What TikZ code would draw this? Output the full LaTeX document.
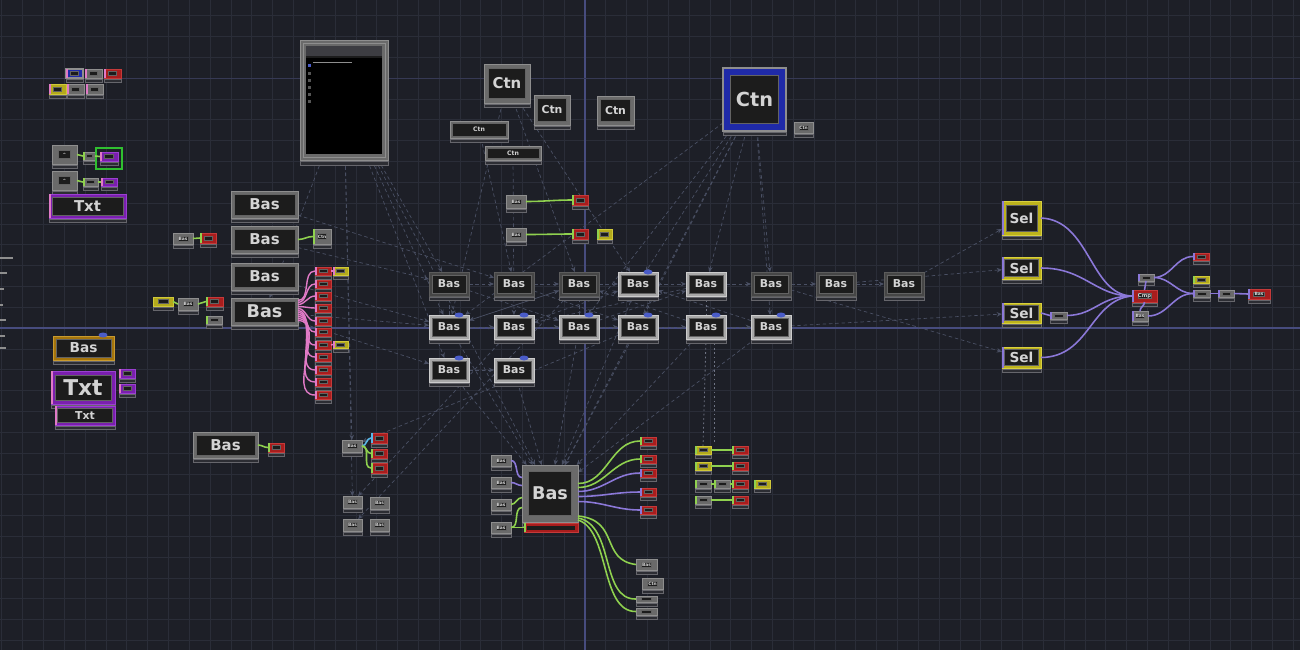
\documentclass[tikz,border=0pt]{standalone}
\usepackage{fontspec}
\setmainfont{DejaVu Sans}
\usetikzlibrary{calc,arrows.meta}
\pgfdeclarelayer{gridlayer}
\pgfdeclarelayer{deplayer}
\pgfsetlayers{gridlayer,deplayer,main}
\definecolor{bgc}{HTML}{1D1F27}
\definecolor{gridc}{HTML}{2A2D38}
\definecolor{axisc}{HTML}{474C7E}
\definecolor{cgrey}{HTML}{6A6A6A}
\definecolor{cgreyl}{HTML}{8E8E8E}
\definecolor{cdim}{HTML}{464646}
\definecolor{cdiml}{HTML}{5C5C5C}
\definecolor{clight}{HTML}{A8A8A8}
\definecolor{clightl}{HTML}{CCCCCC}
\definecolor{cred}{HTML}{A81D1D}
\definecolor{credl}{HTML}{C43A3A}
\definecolor{cyel}{HTML}{B3AA1C}
\definecolor{cyell}{HTML}{D0C83A}
\definecolor{cpur}{HTML}{7A1FAE}
\definecolor{cpurl}{HTML}{9A40D0}
\definecolor{cblue}{HTML}{1F2AA8}
\definecolor{corg}{HTML}{A4740C}
\definecolor{corgl}{HTML}{C89A30}
\definecolor{csel}{HTML}{BDB31C}
\definecolor{csell}{HTML}{D8D040}
\definecolor{cinner}{HTML}{1C1C1C}
\definecolor{ctext}{HTML}{D4D4D4}
\definecolor{cstrip}{HTML}{2C2D33}
\definecolor{cstripl}{HTML}{66666C}
\definecolor{wgreen}{HTML}{8FD14F}
\definecolor{wpurple}{HTML}{8B78D8}
\definecolor{wpink}{HTML}{E07AC6}
\definecolor{wcyan}{HTML}{5AB8E8}
\definecolor{cdep}{HTML}{4A5064}
\definecolor{cdot}{HTML}{4A5CC8}
\definecolor{cselbox}{HTML}{30C030}
\newcommand{\fs}[1]{\fontsize{#1}{#1}\selectfont\bfseries}
\newcommand{\tdop}[7]{%
  \pgfmathsetmacro\opw{#5-#3}%
  \pgfmathsetmacro\oph{#6-#4}%
  \pgfmathsetmacro\opins{max(2,min(\opw,\oph)*0.12)}%
  \pgfmathsetmacro\opiw{\opw<30 ? \opw*0.5 : \opw-2*\opins}%
  \pgfmathsetmacro\opih{\opw<30 ? \oph*0.42 : \oph-2*\opins}%
  \node[opbody,#2,minimum width=\opw*0.02cm,minimum height=\oph*0.02cm] (#1) at ({(#3+#5)/2},{(#4+#6)/2}) {};%
  \node[opin,minimum width=\opiw*0.02cm,minimum height=\opih*0.02cm] at (#1.center) {#7};%
  \path[strip] (#3,#6+1) rectangle (#5,#6+4.5);%
}
\newcommand{\instrip}[2]{\fill[#2] (#1.north west) rectangle ($(#1.south west)+(2.2,0)$);}
\newcommand{\bdot}[2]{\fill[cdot] (#1,#2) ellipse [x radius=0.09cm, y radius=0.05cm];}
\begin{document}
\begin{tikzpicture}[x=0.02cm,y=-0.02cm,
  opbody/.style={rectangle,inner sep=0pt,outer sep=0pt,line width=0.5pt},
  opin/.style={rectangle,inner sep=0pt,outer sep=0pt,fill=cinner,draw=cgreyl!70!black,line width=0.3pt,text=ctext},
  strip/.style={fill=cstrip,draw=cstripl,line width=0.3pt},
  fgrey/.style={fill=cgrey,draw=cgreyl},
  fdim/.style={fill=cdim,draw=cdiml},
  flight/.style={fill=clight,draw=clightl},
  fred/.style={fill=cred,draw=credl},
  fyellow/.style={fill=cyel,draw=cyell},
  fpurple/.style={fill=cpur,draw=cpurl},
  fblue/.style={fill=cblue,draw=cgreyl,line width=0.9pt},
  forange/.style={fill=corg,draw=corgl},
  fsel/.style={fill=csel,draw=csell},
  gw/.style={draw=wgreen,line width=0.9pt},
  pw/.style={draw=wpurple,line width=0.9pt},
  kw/.style={draw=wpink,line width=0.8pt},
  cw/.style={draw=wcyan,line width=0.9pt},
  dep/.style={draw=cdep,line width=0.4pt,dash pattern=on 2pt off 1.6pt,-{Stealth[length=3pt,width=2.6pt]}},
  depn/.style={draw=cdep!80!white,line width=0.45pt,dash pattern=on 1pt off 1.5pt},
  gridline/.style={draw=gridc,line width=0.35pt}]
\useasboundingbox (0,0) rectangle (1300,650);
% background and grid
\begin{pgfonlayer}{gridlayer}
\fill[bgc] (0,0) rectangle (1300,650);
\foreach \i in {0,...,62} \draw[gridline] ({1.7+\i*20.83},0) -- ({1.7+\i*20.83},650);
\foreach \j in {0,...,30} \draw[gridline] (0,{15.55+\j*20.83}) -- (1300,{15.55+\j*20.83});
\draw[axisc,line width=0.6pt] (585,0) -- (585,650);
\draw[axisc,line width=0.6pt] (0,328) -- (1300,328);
\draw[gridc!60!axisc,line width=0.5pt] (0,78) -- (1300,78);
% left edge cut-off labels
\foreach \yy/\ww in {258/13,273/7,289/4,305/3,320/6,336/5,348/6}
  \draw[cgreyl,line width=0.6pt] (0,\yy) -- (\ww,\yy);
\end{pgfonlayer}

% ---------- nodes ----------
% top-left cluster
\tdop{tla}{fblue}{66}{69}{83}{78}{}
\tdop{tlb}{fgrey}{85}{69}{102}{78}{}
\tdop{tlc}{fred}{104}{69}{121}{78}{}
\tdop{tld}{fyellow}{49}{84}{66}{94}{}
\tdop{tle}{fgrey}{67}{84}{84}{94}{}
\tdop{tlf}{fgrey}{86}{84}{103}{94}{}
\foreach \n in {tla,tlb,tlc,tld,tle,tlf} {\instrip{\n}{wpink}}

% left TOPs
\tdop{topa}{fgrey}{52}{145}{77}{164}{\fs{2.5}\textasciicircum}
\tdop{sma}{fgrey}{83}{152}{95}{160}{}
\tdop{pua}{fpurple}{100}{152}{118}{161}{}
\draw[cselbox,line width=0.8pt] (96,148) rectangle (122,169);
\tdop{topb}{fgrey}{52}{171}{77}{190}{\fs{2.5}\textasciicircum}
\tdop{smb}{fgrey}{83}{178}{98}{186}{}
\tdop{pub}{fpurple}{101}{178}{117}{186}{}
\instrip{pua}{wpink}\instrip{pub}{wpink}\instrip{sma}{wgreen}\instrip{smb}{wgreen}
\tdop{txta}{fpurple}{49}{194}{126}{218}{\fs{8.5}Txt}
\instrip{txta}{wpink}

% left bottom
\tdop{baso}{forange}{53}{336}{114}{360}{\fs{7.8}Bas}
\bdot{103}{335}
\tdop{txtb}{fpurple}{51}{371}{115}{404}{\fs{12.4}Txt}
\tdop{txtc}{fpurple}{55}{406}{115}{425}{\fs{6.2}Txt}
\tdop{pum}{fpurple}{119}{369}{135}{378}{}
\tdop{pun}{fpurple}{119}{384}{135}{393}{}
\instrip{txtb}{wpink}\instrip{txtc}{wpink}\instrip{pum}{wpink}\instrip{pun}{wpink}

% Bas column
\tdop{basa}{fgrey}{231}{191}{298}{218}{\fs{8.5}Bas}
\tdop{basb}{fgrey}{231}{226}{298}{253}{\fs{8.5}Bas}
\tdop{basc}{fgrey}{231}{263}{298}{290}{\fs{8.5}Bas}
\tdop{basd}{fgrey}{231}{298}{298}{325}{\fs{10}Bas}
\tdop{ga}{fgrey}{173}{233}{193}{244}{\fs{2.5}Bas}
\tdop{ra}{fred}{200}{233}{216}{243}{}
\tdop{ca}{fgrey}{313}{229}{331}{244}{\fs{2.5}Ctn}
\tdop{ya}{fyellow}{153}{297}{173}{306}{}
\tdop{gb}{fgrey}{178}{298}{198}{310}{\fs{2.5}Bas}
\tdop{rb}{fred}{206}{297}{223}{306}{}
\tdop{gc}{fgrey}{206}{316}{222}{324}{}
\instrip{ra}{wgreen}\instrip{rb}{wgreen}\instrip{gc}{wgreen}\instrip{ca}{wgreen}

% pink fan targets
\foreach \k/\yy in {1/267,2/280,3/292,4/304,5/317,6/328,7/341,8/353,9/366,10/378,11/391}
  {\tdop{f\k}{fred}{315}{\yy}{331}{\yy+8}{}\instrip{f\k}{wpink}}
\tdop{fya}{fyellow}{333}{267}{348}{275}{}
\tdop{fyb}{fyellow}{333}{341}{348}{348}{}
\instrip{fya}{wpink}\instrip{fyb}{wpink}

\tdop{base}{fgrey}{193}{432}{258}{458}{\fs{8.5}Bas}
\tdop{rc}{fred}{268}{443}{284}{452}{}
\instrip{rc}{wgreen}

% small cluster
\tdop{gd}{fgrey}{342}{440}{362}{452}{\fs{2.5}Bas}
\tdop{rd}{fred}{371}{433}{387}{443}{}
\tdop{re}{fred}{371}{449}{387}{458}{}
\tdop{rf}{fred}{371}{463}{387}{473}{}
\instrip{rd}{wcyan}\instrip{re}{wgreen}\instrip{rf}{wgreen}
\tdop{ge}{fgrey}{343}{496}{362}{508}{\fs{2.5}Bas}
\tdop{gf}{fgrey}{370}{497}{389}{509}{\fs{2.5}Bas}
\tdop{gg}{fgrey}{343}{519}{362}{531}{\fs{2.5}Bas}
\tdop{gh}{fgrey}{370}{519}{389}{531}{\fs{2.5}Bas}

% tall panel
\node[opbody,fgrey,minimum width=88*0.02cm,minimum height=120*0.02cm] (panel) at (344,100) {};
\draw[cgreyl,line width=0.4pt] (303,43) rectangle (385,157);
\fill[cinner] (306,46) rectangle (382,154);
\fill[black] (306,58) rectangle (382,154);
\fill[cstrip!80!gray] (306,46) rectangle (382,56);
\draw[cgreyl,line width=0.3pt] (313,62) -- (352,62);
\fill[cdot] (307.5,64) rectangle (310.5,67);
\foreach \yy in {72,79,86,93,100} \fill[cgreyl!60!black] (307.5,\yy) rectangle (310.5,\yy+3);
\path[strip] (300,161) rectangle (388,165);

% top Ctn
\tdop{cta}{fgrey}{484}{64}{530}{103}{\fs{8.5}Ctn}
\tdop{ctb}{fgrey}{534}{95}{570}{125}{\fs{6.2}Ctn}
\tdop{ctc}{fgrey}{597}{96}{634}{125}{\fs{6.2}Ctn}
\tdop{ctd}{fgrey}{450}{121}{508}{138}{\fs{3.5}Ctn}
\tdop{cte}{fgrey}{485}{146}{541}{160}{\fs{3.5}Ctn}
\tdop{ctbig}{fblue}{723}{68}{786}{131}{\fs{11}Ctn}
\tdop{ctf}{fgrey}{794}{122}{813}{133}{\fs{2.5}Ctn}

\tdop{gi}{fgrey}{506}{195}{526}{208}{\fs{2.5}Bas}
\tdop{rg}{fred}{572}{195}{588}{205}{}
\tdop{gj}{fgrey}{506}{228}{526}{241}{\fs{2.5}Bas}
\tdop{rh}{fred}{572}{229}{588}{239}{}
\tdop{yb}{fyellow}{597}{229}{612}{239}{}
\instrip{rg}{wgreen}\instrip{rh}{wgreen}\instrip{yb}{wgreen}

% centre rows
\foreach \n/\xx/\st in {1/429/fdim,2/494/fdim,3/559/fdim,4/618/flight,5/686/flight,6/751/fdim,7/816/fdim,8/884/fdim}
  {\tdop{b1\n}{\st}{\xx}{272}{\xx+40}{296}{\fs{6.2}Bas}}
\foreach \n/\xx in {1/429,2/494,3/559,4/618,5/686,6/751}
  {\tdop{b2\n}{flight}{\xx}{315}{\xx+40}{339}{\fs{6.2}Bas}\bdot{\xx+30}{315}}
\foreach \n/\xx in {1/429,2/494}
  {\tdop{b3\n}{flight}{\xx}{358}{\xx+40}{382}{\fs{6.2}Bas}\bdot{\xx+30}{358}}
\bdot{648}{272}

% bottom cluster
\tdop{basf}{fgrey}{522}{465}{578}{522}{\fs{10}Bas}
\node[opbody,fred,minimum width=54*0.02cm,minimum height=9*0.02cm] (rbar) at (551,527.5) {};
\fill[cinner] (527,525.5) rectangle (575,529.5);
\fill[wgreen] (524,523) rectangle (526.2,532);
\foreach \n/\yy in {1/455,2/477,3/499,4/522}
  {\tdop{s\n}{fgrey}{491}{\yy}{511}{\yy+11}{\fs{2.5}Bas}}
\foreach \n/\yy/\cc in {1/437/wgreen,2/455/wgreen,3/469/wpurple,4/488/wpurple,5/506/wpurple}
  {\tdop{ro\n}{fred}{640}{\yy}{656}{\yy+8}{}\instrip{ro\n}{\cc}}
\tdop{bta}{fgrey}{636}{559}{657}{570}{\fs{2.5}Bas}
\tdop{btb}{fgrey}{642}{578}{663}{589}{\fs{2.5}Ctn}
\tdop{btc}{fgrey}{636}{596}{657}{602}{}
\tdop{btd}{fgrey}{636}{608}{657}{615}{}

% right-bottom cluster
\tdop{ka}{fyellow}{695}{446}{711}{454}{}
\tdop{kb}{fred}{732}{446}{748}{454}{}
\tdop{kc}{fyellow}{695}{462}{711}{470}{}
\tdop{kd}{fred}{732}{462}{748}{470}{}
\tdop{ke}{fgrey}{695}{480}{711}{488}{}
\tdop{kf}{fgrey}{714}{480}{730}{488}{}
\tdop{kg}{fred}{732}{480}{748}{488}{}
\tdop{kh}{fyellow}{754}{480}{770}{488}{}
\tdop{ki}{fgrey}{695}{496}{711}{504}{}
\tdop{kj}{fred}{732}{496}{748}{504}{}
\foreach \n in {ka,kb,kc,kd,ke,kf,kg,kh,ki,kj} {\instrip{\n}{wgreen}}

% Sel and right
\tdop{sela}{fsel}{1002}{201}{1041}{235}{\fs{7.8}Sel}
\tdop{selb}{fsel}{1002}{257}{1041}{279}{\fs{7.8}Sel}
\tdop{selc}{fsel}{1002}{303}{1041}{323}{\fs{7.8}Sel}
\tdop{seld}{fsel}{1002}{347}{1041}{368}{\fs{7.8}Sel}
\foreach \n in {sela,selb,selc,seld} {\instrip{\n}{wpurple}}
\tdop{gs}{fgrey}{1050}{312}{1067}{319}{}
\tdop{cmp}{fred}{1132}{290}{1157}{302}{\fs{3}Cmp}
\tdop{gu}{fgrey}{1138}{274}{1154}{281}{}
\tdop{gl}{fgrey}{1132}{311}{1148}{321}{\fs{2.5}Bas}
\tdop{rr}{fred}{1193}{253}{1209}{260}{}
\tdop{yr}{fyellow}{1193}{276}{1209}{283}{}
\tdop{gm}{fgrey}{1193}{290}{1210}{297}{}
\tdop{gn}{fgrey}{1218}{290}{1234}{297}{}
\tdop{rs}{fred}{1248}{289}{1270}{299}{\fs{2.5}Bas}
\foreach \n in {gs,cmp,gu,gl,rr,gm,gn,rs} {\instrip{\n}{wpurple}}
\instrip{yr}{wgreen}

% ---------- dependency lines, behind the nodes ----------
\begin{pgfonlayer}{deplayer}
\foreach \a/\b in {panel/basf,panel/b21,panel/b11,panel/basd,panel/gd,panel/b31,panel/ge,
  cta/b13,cta/b14,cta/b21,ctd/b12,cte/b22,
  ctbig/b14,ctbig/b15,ctbig/b21,ctbig/b24,ctbig/basf,ctbig/b26,ctbig/b23,ctbig/b16,
  basb/b11,basc/b21,basd/b21,basd/b31,basa/b12,
  b12/b24,b13/b21,b22/b14,b11/b23,b21/b13,b23/b15,b25/b13,b26/b14,b15/b22,
  b21/basf,b23/basf,b24/basf,b32/basf,b22/ge,b31/basf,b14/basf,b25/basf,b26/basf,
  b18/sela,b17/selb,b26/selc,b16/seld,b24/gd,b13/gg}
  \draw[dep] (\a) -- (\b);
\foreach \a/\b in {b11/b12,b12/b13,b13/b14,b14/b15,b15/b16,b16/b17,b17/b18,
  b21/b22,b22/b23,b23/b24,b24/b25,b25/b26,b31/b32}
  \draw[dep] (\a.east) -- (\b.west);
\draw[dep] (b21.north) -- (b11.south);
\draw[dep] (b23.north) -- (b13.south);
\draw[depn] (b25.south) -- (ka.north);
\draw[depn] ($(b25.south)+(8,0)$) -- ($(b25.south)+(8,105)$);
\draw[depn] (b15.south) -- ($(b15.south)+(0,20)$);
\end{pgfonlayer}

% ---------- wires ----------
\draw[gw] (topa.east) to[out=0,in=180] (sma.west);
\draw[gw] (sma.east) to[out=0,in=180] (pua.west);
\draw[gw] (topb.east) to[out=0,in=180] (smb.west);
\draw[gw] (smb.east) to[out=0,in=180] (pub.west);
\draw[gw] (ga.east) to[out=0,in=180] (ra.west);
\draw[gw] (basb.east) to[out=0,in=180] (ca.west);
\draw[gw] (ya.east) to[out=0,in=180] (gb.west);
\draw[gw] (gb.east) to[out=0,in=180] (rb.west);
\draw[gw] (base.east) to[out=0,in=180] (rc.west);
\draw[cw] (gd.east) to[out=0,in=180] (rd.west);
\draw[gw] (gd.east) to[out=0,in=180] (re.west);
\draw[gw] (gd.east) to[out=0,in=180] (rf.west);
\draw[gw] (gi.east) to[out=0,in=180] (rg.west);
\draw[gw] (gj.east) to[out=0,in=180] (rh.west);
\foreach \k/\o in {1/-11,2/-9,3/-7,4/-5,5/-3,6/-1,7/1,8/3,9/5,10/7,11/9}
  \draw[kw] ($(basd.east)+(0,\o)$) to[out=0,in=180] (f\k.west);
\draw[kw] (f1.east) -- (fya.west);
\draw[kw] (f7.east) -- (fyb.west);
% bottom cluster wires
\draw[pw] (s1.east) to[out=0,in=180] ($(basf.west)+(0,-16)$);
\draw[pw] (s2.east) to[out=0,in=180] ($(basf.west)+(0,-8)$);
\draw[gw] (s3.east) to[out=0,in=180] ($(basf.west)+(0,4)$);
\draw[gw] (s4.east) to[out=0,in=180] ($(basf.west)+(0,14)$);
\draw[gw] (s4.east) to[out=0,in=180] (rbar.west);
\draw[gw] ($(basf.east)+(0,-10)$) to[out=0,in=180] (ro1.west);
\draw[gw] ($(basf.east)+(0,-6)$) to[out=0,in=180] (ro2.west);
\draw[pw] ($(basf.east)+(0,-2)$) to[out=0,in=180] (ro3.west);
\draw[pw] ($(basf.east)+(0,3)$) to[out=0,in=180] (ro4.west);
\draw[pw] ($(basf.east)+(0,8)$) to[out=0,in=180] (ro5.west);
\draw[gw] ($(basf.south east)+(0,-6)$) .. controls (620,520) and (600,560) .. (bta.west);
\draw[gw] ($(basf.south east)+(0,-4)$) .. controls (615,525) and (600,600) .. (btc.west);
\draw[gw] ($(basf.south east)+(0,-2)$) .. controls (610,530) and (600,612) .. (btd.west);
\draw[gw] (ka.east) -- (kb.west);
\draw[gw] (kc.east) -- (kd.west);
\draw[gw] (ke.east) -- (kf.west);
\draw[gw] (kf.east) -- (kg.west);
\draw[gw] (ki.east) -- (kj.west);
% right wires
\draw[pw] (sela.east) .. controls (1090,220) and (1090,295) .. (cmp.west);
\draw[pw] (selb.east) .. controls (1085,268) and (1095,296) .. (cmp.west);
\draw[pw] (selc.east) -- (gs.west);
\draw[pw] (gs.east) .. controls (1095,315) and (1100,296) .. (cmp.west);
\draw[pw] (seld.east) .. controls (1090,357) and (1090,300) .. (cmp.west);
\draw[pw] (cmp.north) to[out=90,in=-90] (gu.south);
\draw[pw] (cmp.south) to[out=-90,in=90] (gl.north);
\draw[pw] (gu.east) to[out=0,in=180] (rr.west);
\draw[pw] (gu.east) to[out=0,in=180] (gm.west);
\draw[pw] (gl.east) to[out=0,in=180] (gm.west);
\draw[pw] (gm.east) -- (gn.west);
\draw[pw] (gn.east) -- (rs.west);
\end{tikzpicture}
\end{document}
